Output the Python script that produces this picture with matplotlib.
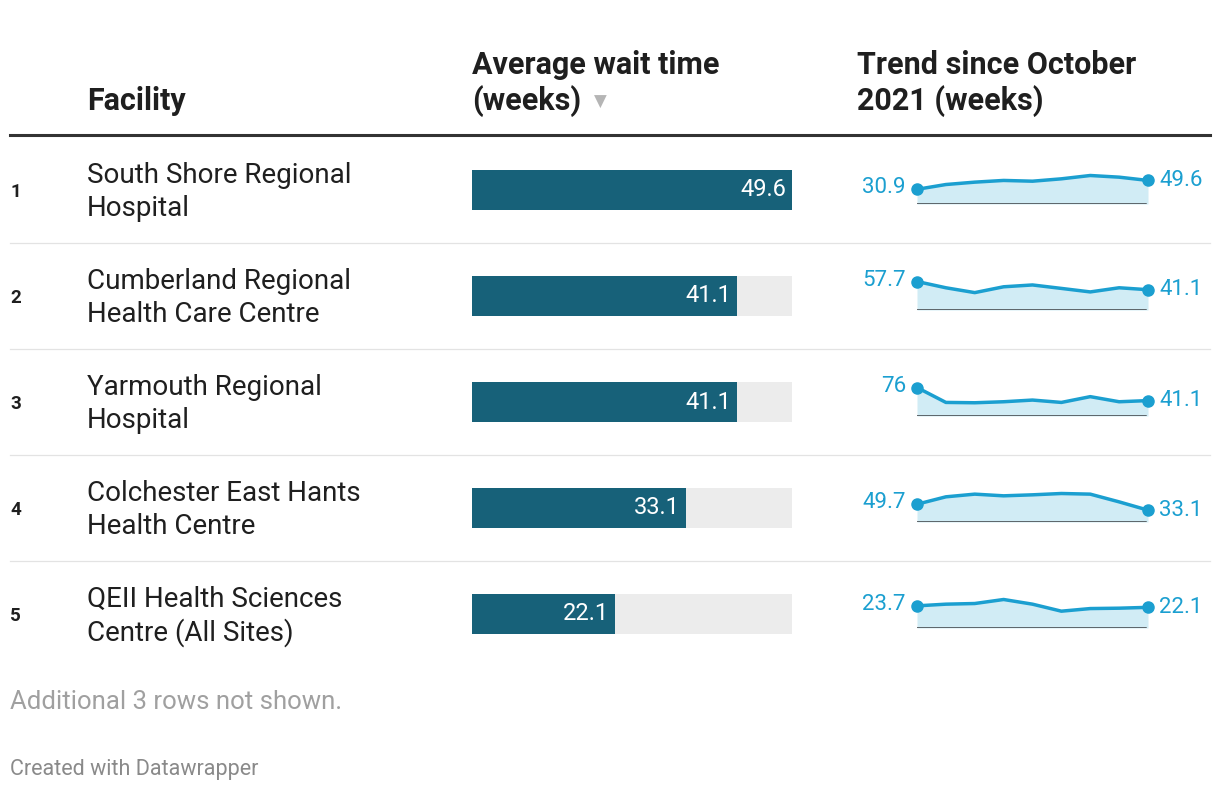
import matplotlib
matplotlib.use("Agg")
import matplotlib.pyplot as plt
from matplotlib.lines import Line2D

plt.rcParams['font.family'] = ['Roboto', 'DejaVu Sans']

# data
ranks = ["1", "2", "3", "4", "5"]
facilities = [
    "South Shore Regional\nHospital",
    "Cumberland Regional\nHealth Care Centre",
    "Yarmouth Regional\nHospital",
    "Colchester East Hants\nHealth Centre",
    "QEII Health Sciences\nCentre (All Sites)",
]
wait_weeks = [49.6, 41.1, 41.1, 33.1, 22.1]
trend_start_labels = ["30.9", "57.7", "76", "49.7", "23.7"]
trend_end_labels = ["49.6", "41.1", "41.1", "33.1", "22.1"]
trend_south_shore = [30.9, 41.0, 46.0, 49.6, 48.0, 53.0, 60.0, 56.5, 49.6]
trend_cumberland = [57.7, 45.0, 35.2, 47.0, 50.7, 43.7, 36.6, 45.0, 41.1]
trend_yarmouth = [76.0, 36.2, 35.3, 38.0, 42.5, 36.2, 51.6, 38.0, 41.1]
trend_colchester = [49.7, 70.4, 77.9, 73.2, 76.0, 79.7, 77.9, 56.3, 33.1]
trend_qeii = [23.7, 25.5, 26.2, 30.5, 25.5, 18.0, 20.8, 21.2, 22.1]
trends = [trend_south_shore, trend_cumberland, trend_yarmouth, trend_colchester, trend_qeii]

W, H = 1220, 792
BAR_COLOR = "#176179"
BG_BAR = "#ececec"
LINE_BLUE = "#1b9fd0"
FILL_BLUE = "#d1ecf5"
DARK = "#3a3d40"
TEXT = "#1f1f1f"

fig = plt.figure(figsize=(W / 100, H / 100), dpi=100)
fig.patch.set_facecolor("white")


def px_axes(x, y, w, h):
    ax = fig.add_axes([x / W, 1 - (y + h) / H, w / W, h / H])
    ax.set_axis_off()
    return ax


def ftext(x, y, s, **kw):
    fig.text(x / W, 1 - y / H, s, **kw)


def hline(x0, x1, y, color, lw):
    fig.add_artist(Line2D([x0 / W, x1 / W], [1 - y / H, 1 - y / H],
                          transform=fig.transFigure, color=color, lw=lw))


# headers
HDR = dict(fontsize=22, fontweight="bold", color=TEXT, va="center",
           ha="left")
ftext(87, 101, "Facility", **HDR)
ftext(472, 65, "Average wait time", **HDR)
ftext(472, 101, "(weeks)", **HDR)
ftext(594, 102, "\u25bc", fontsize=12, color="#b5b5b5", va="center",
      ha="left", family=["DejaVu Sans"])
ftext(857, 65, "Trend since October", **HDR)
ftext(857, 101, "2021 (weeks)", **HDR)
hline(10, 1210, 135, "#333333", 2.2)

row_h = 106
first_center = 190
max_wait = max(wait_weeks)

for i in range(len(ranks)):
    cy = first_center + i * row_h

    if i > 0:
        hline(10, 1210, cy - 53, "#e3e3e3", 0.9)

    ftext(10, cy + 2, ranks[i], fontsize=13.5, fontweight="bold",
          color=TEXT, va="center", ha="left")
    ftext(87, cy + 2, facilities[i], fontsize=20, color=TEXT,
          va="center", ha="left", linespacing=1.24)

    # bar
    bax = px_axes(472, cy - 20, 320, 40)
    bax.set_xlim(0, max_wait)
    bax.set_ylim(-0.5, 0.5)
    bax.barh([0], [max_wait], height=1, color=BG_BAR)
    bax.barh([0], [wait_weeks[i]], height=1, color=BAR_COLOR)
    bax.annotate(f"{wait_weeks[i]:.1f}", xy=(wait_weeks[i], 0),
                 xytext=(-4, 0), textcoords="offset points", ha="right",
                 va="center", color="white", fontsize=17)

    # sparkline
    vals = trends[i]
    base = cy + 14
    sax = px_axes(917, base - 28.5, 231, 28.5)
    xs = list(range(len(vals)))
    sax.set_xlim(0, len(vals) - 1)
    sax.set_ylim(0, max(vals))
    sax.fill_between(xs, vals, 0, color=FILL_BLUE, lw=0)
    sax.plot(xs, vals, color=LINE_BLUE, lw=2.5, solid_joinstyle="round",
             clip_on=False)
    sax.plot([xs[0], xs[-1]], [vals[0], vals[-1]], "o", color=LINE_BLUE,
             ms=8, clip_on=False)
    sax.axhline(0, xmin=0, xmax=0.987, color=DARK, lw=1.8)
    sax.annotate(trend_start_labels[i], xy=(xs[0], vals[0]), xytext=(-8, 1),
                 textcoords="offset points", ha="right", va="center",
                 color=LINE_BLUE, fontsize=16)
    sax.annotate(trend_end_labels[i], xy=(xs[-1], vals[-1]), xytext=(8, 0),
                 textcoords="offset points", ha="left", va="center",
                 color=LINE_BLUE, fontsize=16)

# footer
ftext(10, 702, "Additional 3 rows not shown.", fontsize=18.5, color="#a0a0a0",
      va="center", ha="left")
ftext(10, 769, "Created with Datawrapper", fontsize=15.5, color="#8a8a8a",
      va="center", ha="left")

fig.savefig("out.png", dpi=100)
